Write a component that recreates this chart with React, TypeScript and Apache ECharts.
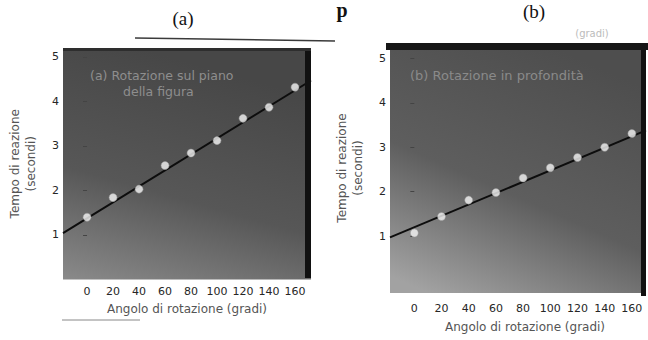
import React, { useEffect, useRef } from "react";
import * as echarts from "echarts";

// ---- data ----
const angles = [0, 20, 40, 60, 80, 100, 120, 140, 160];
const timesA = [1.4, 1.84, 2.03, 2.56, 2.84, 3.12, 3.62, 3.87, 4.32];
const timesB = [1.07, 1.44, 1.81, 1.98, 2.31, 2.54, 2.77, 3.0, 3.31];
const fitA = [
  [-18.5, 1.04],
  [172.3, 4.47],
];
const fitB = [
  [-17.9, 0.97],
  [170.4, 3.38],
];
const xTicks = [0, 20, 40, 60, 80, 100, 120, 140, 160];
const yTicks = [1, 2, 3, 4, 5];
const panelTitles = ["(a)", "(b)"];
const panelLabelA = ["(a) Rotazione sul piano", "della figura"];
const panelLabelB = "(b) Rotazione in profondità";
const xName = "Angolo di rotazione (gradi)";
const yName = "Tempo di reazione\n(secondi)";

const FONT = "DejaVu Sans";
const SERIF = "Liberation Serif";

export default function App() {
  const ref = useRef<HTMLDivElement>(null);

  useEffect(() => {
    document.body.style.margin = "0";
    const chart = echarts.init(ref.current!, null, { renderer: "svg" });

    const bgA = new echarts.graphic.LinearGradient(0.3, 0, 0, 1, [
      { offset: 0, color: "#474747" },
      { offset: 0.55, color: "#575757" },
      { offset: 1, color: "#8a8a8a" },
    ]);
    const bgB = new echarts.graphic.LinearGradient(0.6, 0, 0.15, 1, [
      { offset: 0, color: "#4e4e4e" },
      { offset: 0.55, color: "#5e5e5e" },
      { offset: 1, color: "#a2a2a2" },
    ]);

    const tickLabel = { fontSize: 11, color: "#262626", fontFamily: FONT };
    const nameStyle = { fontSize: 12, color: "#555", fontFamily: FONT, lineHeight: 16 };

    const xAxisBase = (grid: number, min: number, max: number, gap: number, margin: number, pad: number[]) => ({
      gridIndex: grid,
      type: "value",
      min,
      max,
      axisLine: { show: false },
      axisTick: { show: false },
      splitLine: { show: false },
      axisLabel: { ...tickLabel, customValues: xTicks, margin },
      name: xName,
      nameLocation: "middle",
      nameGap: gap,
      nameTextStyle: { ...nameStyle, padding: pad },
    });
    const yAxisBase = (grid: number, min: number, max: number, gap: number) => ({
      gridIndex: grid,
      type: "value",
      min,
      max,
      axisLine: { show: false },
      axisTick: { show: true, customValues: yTicks, length: 4, lineStyle: { color: "#444" } },
      splitLine: { show: false },
      axisLabel: { ...tickLabel, customValues: yTicks, margin: 4 },
      name: yName,
      nameLocation: "middle",
      nameRotate: 90,
      nameGap: gap,
      nameTextStyle: nameStyle,
    });

    const option: any = {
      animation: false,
      backgroundColor: "#ffffff",
      grid: [
        { left: 63, top: 48, width: 248, height: 231.5, show: true, backgroundColor: bgA, borderWidth: 0 },
        { left: 390, top: 43, width: 256, height: 259, show: true, backgroundColor: bgB, borderWidth: 0 },
      ],
      xAxis: [
        xAxisBase(0, -18.5, 172.3, 17, 6, [0, 0, 0, 0]),
        xAxisBase(1, -17.9, 170.4, 26, 10, [0, 0, 0, 14]),
      ],
      yAxis: [yAxisBase(0, 0, 5.2, 24), yAxisBase(1, -0.283, 5.35, 24)],
      series: [
        {
          type: "line",
          xAxisIndex: 0,
          yAxisIndex: 0,
          data: fitA,
          symbol: "none",
          lineStyle: { color: "#0d0d0d", width: 2 },
          z: 2,
        },
        {
          type: "scatter",
          xAxisIndex: 0,
          yAxisIndex: 0,
          data: angles.map((a, i) => [a, timesA[i]]),
          symbolSize: 8,
          itemStyle: { color: "#f6f6f6", borderColor: "#9a9a9a", borderWidth: 0.6 },
          z: 3,
        },
        {
          type: "line",
          xAxisIndex: 1,
          yAxisIndex: 1,
          data: fitB,
          symbol: "none",
          lineStyle: { color: "#0d0d0d", width: 2 },
          z: 2,
        },
        {
          type: "scatter",
          xAxisIndex: 1,
          yAxisIndex: 1,
          data: angles.map((a, i) => [a, timesB[i]]),
          symbolSize: 8,
          itemStyle: { color: "#f6f6f6", borderColor: "#9a9a9a", borderWidth: 0.6 },
          z: 3,
        },
      ],
      graphic: [
        // panel frames (dark scan edges)
        { type: "rect", shape: { x: 305, y: 50, width: 6, height: 228 }, style: { fill: "#111" }, z: 10 },
        { type: "rect", shape: { x: 63, y: 48, width: 248, height: 3 }, style: { fill: "#2e2e2e" }, z: 10 },
        { type: "rect", shape: { x: 386, y: 43, width: 262, height: 7 }, style: { fill: "#161616" }, z: 10 },
        { type: "rect", shape: { x: 641, y: 50, width: 5, height: 246 }, style: { fill: "#111" }, z: 10 },
        // rules
        { type: "line", shape: { x1: 135, y1: 38, x2: 335, y2: 41 }, style: { stroke: "#3a3a3a", lineWidth: 1.5 } },
        { type: "line", shape: { x1: 62, y1: 320, x2: 140, y2: 320 }, style: { stroke: "#888", lineWidth: 1 } },
        // titles
        { type: "text", x: 183, y: 18, style: { text: panelTitles[0], font: `19px '${SERIF}'`, fill: "#111", align: "center", verticalAlign: "middle" } },
        { type: "text", x: 534, y: 11, style: { text: panelTitles[1], font: `19px '${SERIF}'`, fill: "#111", align: "center", verticalAlign: "middle" } },
        { type: "text", x: 342, y: 0, style: { text: "p", font: `bold 20px '${SERIF}'`, fill: "#111", align: "center", verticalAlign: "top" } },
        { type: "text", x: 592, y: 33, style: { text: "(gradi)", font: `10px '${FONT}'`, fill: "#bbb", align: "center", verticalAlign: "middle" } },
        // in-panel labels
        { type: "text", x: 90, y: 75, style: { text: panelLabelA[0], font: `12.5px '${FONT}'`, fill: "#8e8e8e", verticalAlign: "middle" }, z: 11 },
        { type: "text", x: 123, y: 91, style: { text: panelLabelA[1], font: `12.5px '${FONT}'`, fill: "#8e8e8e", verticalAlign: "middle" }, z: 11 },
        { type: "text", x: 410, y: 75, style: { text: panelLabelB, font: `13px '${FONT}'`, fill: "#8a8a8a", verticalAlign: "middle" }, z: 11 },
      ],
    };

    chart.setOption(option);
    return () => chart.dispose();
  }, []);

  return (
    <div
      ref={ref}
      style={{ position: "absolute", left: 0, top: 0, width: 648, height: 340 }}
    />
  );
}
